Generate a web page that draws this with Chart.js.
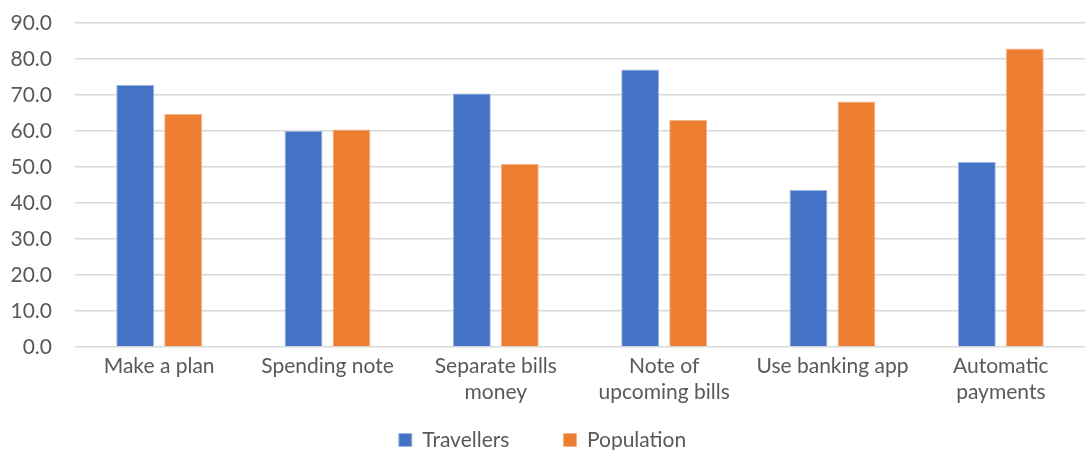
<!DOCTYPE html>
<html>
<head>
<meta charset="utf-8">
<script src="https://cdn.jsdelivr.net/npm/chart.js@4.4.1/dist/chart.umd.min.js"></script>
<style>
  html, body { margin: 0; padding: 0; background: #fff; }
  #wrap { width: 1085px; height: 450px; }
</style>
</head>
<body>
<div id="wrap"><canvas id="myChart"></canvas></div>
<script>
const categories = [
    'Make a plan',
    'Spending note',
    ['Separate bills', 'money'],
    ['Note of', 'upcoming bills'],
    'Use banking app',
    ['Automatic', 'payments']
];
const travellers = [72.8, 60.0, 70.4, 77.1, 43.6, 51.4];
const population = [64.7, 60.4, 50.8, 63.1, 68.2, 82.9];
const yMax = 90;
const yStep = 10;

const fontFamily = 'Lato, "Open Sans", sans-serif';
const fontSize = 21;
const textColor = '#595959';

// the x axis box is kept short so the legend can sit close under it;
// let its labels draw past the box instead of being clipped
const labelRoom = {
    id: 'labelRoom',
    afterLayout(chart) {
        chart.scales.x.bottom = chart.height;
    }
};

const ctx = document.getElementById('myChart');

new Chart(ctx, {
    type: 'bar',
    data: {
        labels: categories,
        datasets: [
            {
                label: 'Travellers',
                data: travellers,
                backgroundColor: '#4472c4',
                borderColor: '#9db4e0',
                borderWidth: 1,
                barPercentage: 0.79,
                categoryPercentage: 0.57
            },
            {
                label: 'Population',
                data: population,
                backgroundColor: '#ed7d31',
                borderColor: '#f5b48a',
                borderWidth: 1,
                barPercentage: 0.79,
                categoryPercentage: 0.57
            }
        ]
    },
    plugins: [labelRoom],
    options: {
        responsive: true,
        maintainAspectRatio: false,
        animation: false,
        layout: { padding: { top: 23, right: 0, left: 0, bottom: -10.5 } },
        plugins: {
            tooltip: { enabled: false },
            legend: {
                position: 'bottom',
                labels: {
                    color: textColor,
                    font: { family: fontFamily, size: fontSize },
                    boxWidth: 13,
                    boxHeight: 13,
                    padding: 54
                }
            }
        },
        scales: {
            x: {
                grid: { display: false, drawTicks: false },
                border: { display: false },
                afterFit: (scale) => { scale.height = 28.5; },
                ticks: {
                    color: textColor,
                    font: { family: fontFamily, size: fontSize, lineHeight: 1.2 },
                    padding: 7,
                    maxRotation: 0,
                    autoSkip: false
                }
            },
            y: {
                min: 0,
                max: yMax,
                grid: { color: '#d9d9d9', lineWidth: 1.5, drawTicks: false },
                border: { display: false },
                afterFit: (scale) => {
                    // fixed gutter for the tick labels, no extra space above the top line
                    scale.width = 75;
                    scale.paddingTop = 0;
                    scale.paddingBottom = 0;
                },
                ticks: {
                    stepSize: yStep,
                    color: textColor,
                    font: { family: fontFamily, size: fontSize },
                    padding: 23,
                    callback: (v) => v.toFixed(1)
                }
            }
        }
    }
});
</script>
</body>
</html>
